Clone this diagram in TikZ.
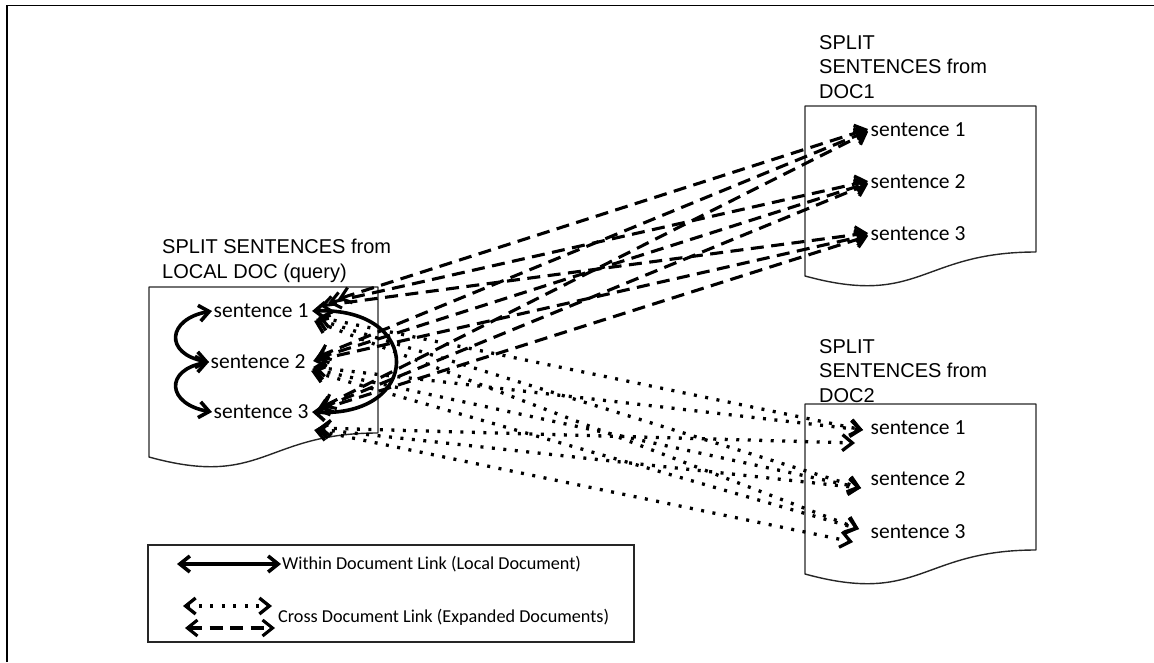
\documentclass[tikz,border=0pt]{standalone}
\usepackage{fontspec}
\setmainfont{Carlito}
\newfontfamily\hdrfont{Liberation Sans}
\usetikzlibrary{arrows.meta}

% outline of a "document" page: flat top, wavy bottom edge
\newcommand\docpage[3]{%
  \draw[page] (#1,#2) -- ++(#3,0) -- ++(0,146)
    .. controls +(-#3/2,0) and +(#3/2,31.6) .. (#1,#2+170) -- cycle;}

\begin{document}
\begin{tikzpicture}[x=1pt,y=-1pt,
  >={Straight Barb[length=10pt,width=16pt]},
  sent/.style={font=\fontsize{21.5}{25}\selectfont, inner sep=1.5pt, anchor=west},
  hdr/.style={font=\hdrfont\fontsize{20}{24.5}\selectfont, align=left, inner sep=0pt, anchor=north west},
  legtext/.style={font=\fontsize{18.2}{22}\selectfont, inner sep=1pt, anchor=west},
  page/.style={line width=1.4pt, draw=black!85, line join=round},
  within/.style={line width=3.6pt, <->},
  crossdash/.style={line width=3.1pt, dash pattern=on 13pt off 7.5pt, <->},
  crossdot/.style={line width=3.3pt, dash pattern=on 3pt off 8.5pt, <->}]

\useasboundingbox (0,0) rectangle (1154,662);

% outer frame (top and left edges only)
\draw[line width=1.6pt] (7,662) -- (7,5.5) -- (1154,5.5);

% the three pages
\docpage{149}{287}{229}
\docpage{805}{106}{231}
\docpage{805}{404}{231}

% headings
\node[hdr] (hl) at (162,239) {SPLIT SENTENCES from\\LOCAL DOC (query)};
\node[hdr] (h1) at (819,35) {SPLIT\\SENTENCES from\\DOC1};
\node[hdr] (h2) at (819,339) {SPLIT\\SENTENCES from\\DOC2};

% sentences of the local document
\node[sent] (l1) at (212,311) {sentence 1};
\node[sent] (l2) at (209,362) {sentence 2};
\node[sent] (l3) at (212,412) {sentence 3};
% sentences of DOC1
\node[sent] (a1) at (869,130) {sentence 1};
\node[sent] (a2) at (869,182) {sentence 2};
\node[sent] (a3) at (869,234) {sentence 3};
% sentences of DOC2
\node[sent] (b1) at (869,428) {sentence 1};
\node[sent] (b2) at (869,479) {sentence 2};
\node[sent] (b3) at (869,532) {sentence 3};

% links inside the local document
\draw[within] (l1.west) .. controls +(-45,8) and +(-45,-8) .. (l2.west);
\draw[within] (l2.west) .. controls +(-45,8) and +(-45,-8) .. (l3.west);
\draw[within] ([xshift=2pt]l1.east) .. controls +(112,-4) and +(110,6) .. ([xshift=2pt]l3.east);

% cross-document links to DOC1
\foreach \i/\j/\lx/\ly/\rx/\ry in {
  1/1/28/-12/-1/-1, 1/2/18/-8/-1/-1, 1/3/10/-5/-1/-1,
  2/1/10/-5/-1/1,   2/2/8/-3/-1/1,   2/3/6/-1/-1/1,
  3/1/12/-5/-1/2,   3/2/9/-3/-1/2,   3/3/6/-1/-1/2}
  \draw[crossdash] ([shift={(\lx,\ly)}]l\i.east) -- ([shift={(\rx,\ry)}]a\j.west);

% cross-document links to DOC2
\foreach \i/\j/\lx/\ly/\rx/\ry in {
  1/1/8/6/-6/2,   1/2/6/8/-8/9,   1/3/4/10/-10/-3,
  2/1/6/5/-6/2,   2/2/5/7/-8/9,   2/3/4/9/-10/-3,
  3/1/8/16/-14/15, 3/2/6/17/-8/9, 3/3/4/18/-16/10}
  \draw[crossdot] ([shift={(\lx,\ly)}]l\i.east) -- ([shift={(\rx,\ry)}]b\j.west);

% legend
\draw[line width=1.3pt, draw=black!85] (148,545) rectangle (634,642);
\node[legtext] (t1) at (281,564) {Within Document Link (Local Document)};
\node[legtext] (t2) at (277,617) {Cross Document Link (Expanded Documents)};
\coordinate (k1) at (177,564);
\coordinate (k2a) at (183,606);
\coordinate (k2b) at (272,606);
\coordinate (k3a) at (185,628);
\coordinate (k3b) at (275,628);
\draw[within] (k1) -- (t1.west);
\draw[crossdot] (k2a) -- (k2b);
\draw[crossdash] (k3a) -- (k3b);
\end{tikzpicture}
\end{document}
